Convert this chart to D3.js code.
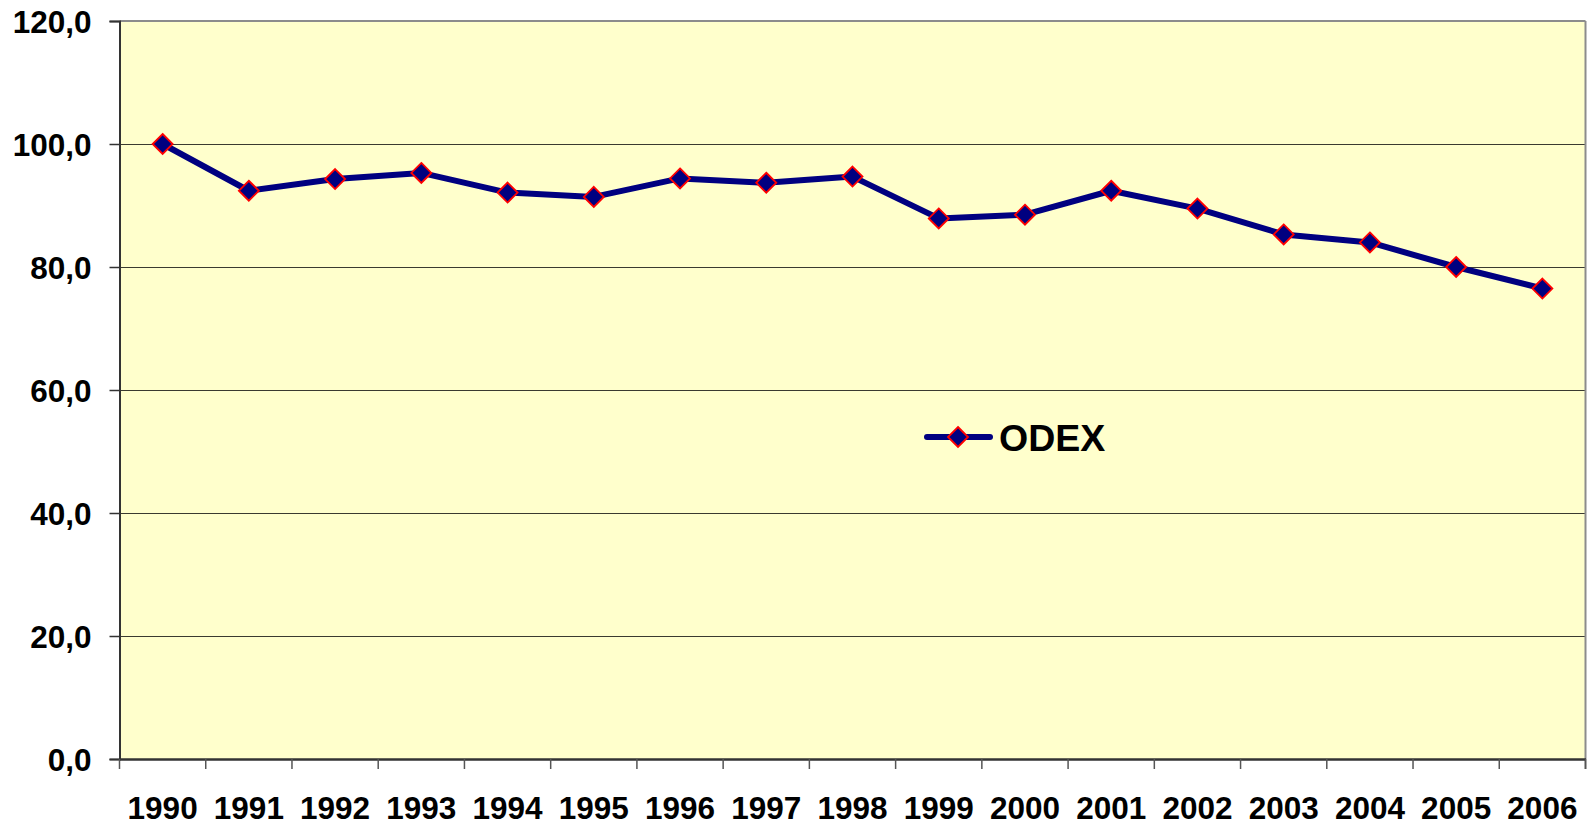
<!DOCTYPE html>
<html>
<head>
<meta charset="utf-8">
<script src="https://cdn.jsdelivr.net/npm/d3@7"></script>
<style>
html, body { margin: 0; padding: 0; background: #ffffff; }
svg { display: block; }
text { font-family: "Liberation Sans", Arial, sans-serif; font-weight: bold; fill: #000; }
</style>
</head>
<body>
<svg id="chart" width="1590" height="826"></svg>
<script>
const years = ["1990","1991","1992","1993","1994","1995","1996","1997","1998","1999","2000","2001","2002","2003","2004","2005","2006"];
const odex = [100.0, 92.4, 94.3, 95.3, 92.1, 91.4, 94.4, 93.7, 94.7, 87.9, 88.5, 92.4, 89.5, 85.3, 84.0, 80.0, 76.5];
const yTicks = [0, 20, 40, 60, 80, 100, 120];
const seriesName = "ODEX";

(function () {
const svg = d3.select("#chart");
const pL = 119.5, pR = 1585.5, pT = 21, pB = 759;

const x = d3.scaleBand().domain(years).range([pL, pR]).paddingInner(0).paddingOuter(0);
const y = d3.scaleLinear().domain([0, 120]).range([pB, pT]);
const fmt = v => d3.format(".1f")(v).replace(".", ",");

// plot background
svg.append("rect").attr("x", pL).attr("y", pT)
  .attr("width", pR - pL).attr("height", pB - pT)
  .attr("fill", "#FFFFCC");

// gridlines
svg.append("g").selectAll("line").data(yTicks.filter(t => t > 0 && t < 120)).join("line")
  .attr("x1", pL).attr("x2", pR)
  .attr("y1", d => Math.round(y(d)) + 0.5).attr("y2", d => Math.round(y(d)) + 0.5)
  .attr("stroke", "#3a3a30").attr("stroke-width", 1);

// top and right border
svg.append("line").attr("x1", pL).attr("x2", pR).attr("y1", pT).attr("y2", pT)
  .attr("stroke", "#8c8c8c").attr("stroke-width", 2);
svg.append("line").attr("x1", pR).attr("x2", pR).attr("y1", pT).attr("y2", pB + 10)
  .attr("stroke", "#8c8c8c").attr("stroke-width", 2);

// y axis
const yAxis = d3.axisLeft(y).tickValues(yTicks).tickFormat(fmt).tickSize(10).tickPadding(18);
const gy = svg.append("g").attr("transform", `translate(${pL},0)`).call(yAxis);
gy.select(".domain").attr("stroke", "#333").attr("stroke-width", 2);
gy.selectAll(".tick line").attr("stroke", "#333").attr("stroke-width", 1.5);
gy.selectAll(".tick text").attr("font-size", 31.5).attr("font-family", "Liberation Sans, Arial, sans-serif")
  .attr("font-weight", "bold").attr("fill", "#000").attr("dy", "0.36em");

// x axis
const xAxis = d3.axisBottom(x).tickSize(0).tickPadding(0);
const gx = svg.append("g").attr("transform", `translate(0,${pB})`).call(xAxis);
gx.select(".domain").attr("stroke", "#333").attr("stroke-width", 2.5);
gx.selectAll(".tick text").attr("font-size", 31.5).attr("font-family", "Liberation Sans, Arial, sans-serif")
  .attr("font-weight", "bold").attr("fill", "#000").attr("y", 60).attr("dy", 0);
// category boundary ticks
const bounds = years.map(d => x(d)).concat([pR]);
svg.append("g").selectAll("line").data(bounds).join("line")
  .attr("x1", d => d).attr("x2", d => d).attr("y1", pB).attr("y2", pB + 10)
  .attr("stroke", "#555").attr("stroke-width", 1.5);

// line
const cx = d => x(d) + x.bandwidth() / 2;
const line = d3.line().x((d, i) => cx(years[i])).y(d => y(d));
svg.append("path").datum(odex).attr("d", line)
  .attr("fill", "none").attr("stroke", "#000080").attr("stroke-width", 6)
  .attr("stroke-linejoin", "round");

// markers
const r = 10;
const diamond = `M0,${-r}L${r},0L0,${r}L${-r},0Z`;
svg.append("g").selectAll("path").data(odex).join("path")
  .attr("d", diamond)
  .attr("transform", (d, i) => `translate(${cx(years[i])},${y(d)})`)
  .attr("fill", "#000080").attr("stroke", "#FF0000").attr("stroke-width", 1.8);

// legend
const lg = svg.append("g").attr("transform", "translate(927,437)");
lg.append("line").attr("x1", 0).attr("x2", 63).attr("y1", 0).attr("y2", 0)
  .attr("stroke", "#000080").attr("stroke-width", 6).attr("stroke-linecap", "round");
lg.append("path").attr("d", diamond).attr("transform", "translate(31,0)")
  .attr("fill", "#000080").attr("stroke", "#FF0000").attr("stroke-width", 1.8);
lg.append("text").attr("x", 72).attr("y", 14).attr("font-size", 37.5).text(seriesName);
})();
</script>
</body>
</html>
